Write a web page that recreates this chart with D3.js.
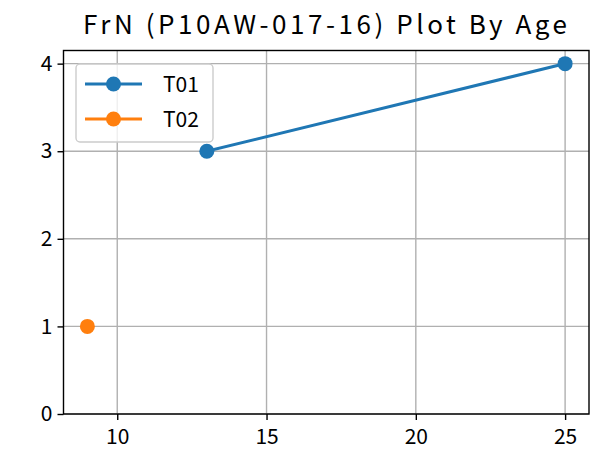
<!DOCTYPE html>
<html>
<head>
<meta charset="utf-8">
<script src="https://cdn.jsdelivr.net/npm/d3@7"></script>
<style>
  html, body { margin: 0; padding: 0; background: #fff; }
  svg { display: block; }
  text { font-family: "Noto Sans CJK JP", "Noto Sans CJK SC", sans-serif; fill: #000; }
</style>
</head>
<body>
<svg id="chart" width="600" height="455"></svg>
<script>
// Ages and counts per series
const seriesNames = ["T01", "T02"];
const t01Ages = [13, 25];
const t01Values = [3, 4];
const t02Ages = [9];
const t02Values = [1];
const seriesColors = ["#1f77b4", "#ff7f0e"];

const xTicks = [10, 15, 20, 25];
const yTicks = [0, 1, 2, 3, 4];
const titleText = "FrN (P10AW-017-16) Plot By Age";

const series = [
  { name: seriesNames[0], color: seriesColors[0], pts: t01Ages.map((a, i) => ({ x: a, y: t01Values[i] })) },
  { name: seriesNames[1], color: seriesColors[1], pts: t02Ages.map((a, i) => ({ x: a, y: t02Values[i] })) }
];

const margin = { left: 63.5, right: 589, top: 50.5, bottom: 414 };
const svg = d3.select("#chart");

const x = d3.scaleLinear().domain([8.2, 25.8]).range([margin.left, margin.right]);
const y = d3.scaleLinear().domain([0, 4.15]).range([margin.bottom, margin.top]);

// Grid
const grid = svg.append("g");
grid.selectAll(".gx").data(xTicks).join("line")
  .attr("x1", d => x(d)).attr("x2", d => x(d))
  .attr("y1", margin.top).attr("y2", margin.bottom)
  .attr("stroke", "#b0b0b0").attr("stroke-width", 1.4);
grid.selectAll(".gy").data(yTicks).join("line")
  .attr("y1", d => y(d)).attr("y2", d => y(d))
  .attr("x1", margin.left).attr("x2", margin.right)
  .attr("stroke", "#b0b0b0").attr("stroke-width", 1.4);

// Axes
const xAxis = d3.axisBottom(x).tickValues(xTicks).tickSize(6).tickPadding(9).tickFormat(d3.format("d"));
const yAxis = d3.axisLeft(y).tickValues(yTicks).tickSize(6).tickPadding(5).tickFormat(d3.format("d"));

const gx = svg.append("g").attr("transform", `translate(0,${margin.bottom})`).call(xAxis);
const gy = svg.append("g").attr("transform", `translate(${margin.left},0)`).call(yAxis);
[gx, gy].forEach(g => {
  g.select(".domain").remove();
  g.selectAll(".tick line").attr("stroke", "#000").attr("stroke-width", 1.4);
  g.selectAll(".tick text").attr("font-size", 21).attr("font-family", "\"Noto Sans CJK JP\", sans-serif");
});

// Lines and markers
const line = d3.line().x(d => x(d.x)).y(d => y(d.y));
series.forEach(s => {
  svg.append("path").datum(s.pts)
    .attr("d", line).attr("fill", "none")
    .attr("stroke", s.color).attr("stroke-width", 3).attr("stroke-linecap", "square");
  svg.append("g").selectAll("circle").data(s.pts).join("circle")
    .attr("cx", d => x(d.x)).attr("cy", d => y(d.y)).attr("r", 7.5)
    .attr("fill", s.color);
});

// Frame
svg.append("rect")
  .attr("x", margin.left).attr("y", margin.top)
  .attr("width", margin.right - margin.left).attr("height", margin.bottom - margin.top)
  .attr("fill", "none").attr("stroke", "#000").attr("stroke-width", 1.4);

// Legend
const lg = svg.append("g");
lg.append("rect")
  .attr("x", 76).attr("y", 64).attr("width", 137).attr("height", 78)
  .attr("rx", 4).attr("fill", "rgba(255,255,255,0.8)")
  .attr("stroke", "#cccccc").attr("stroke-width", 1.4);
series.forEach((s, i) => {
  const cy = 84 + i * 35;
  lg.append("line").attr("x1", 85).attr("x2", 142).attr("y1", cy).attr("y2", cy)
    .attr("stroke", s.color).attr("stroke-width", 3);
  lg.append("circle").attr("cx", 113.5).attr("cy", cy).attr("r", 7.5).attr("fill", s.color);
  lg.append("text").attr("x", 163).attr("y", cy).attr("dy", "0.36em")
    .attr("font-size", 21).attr("textLength", 36).attr("lengthAdjust", "spacingAndGlyphs")
    .text(s.name);
});

// Title
svg.append("text")
  .attr("x", 325).attr("y", 34)
  .attr("text-anchor", "middle")
  .attr("font-size", 26)
  .attr("textLength", 484).attr("lengthAdjust", "spacing")
  .text(titleText);
</script>
</body>
</html>
